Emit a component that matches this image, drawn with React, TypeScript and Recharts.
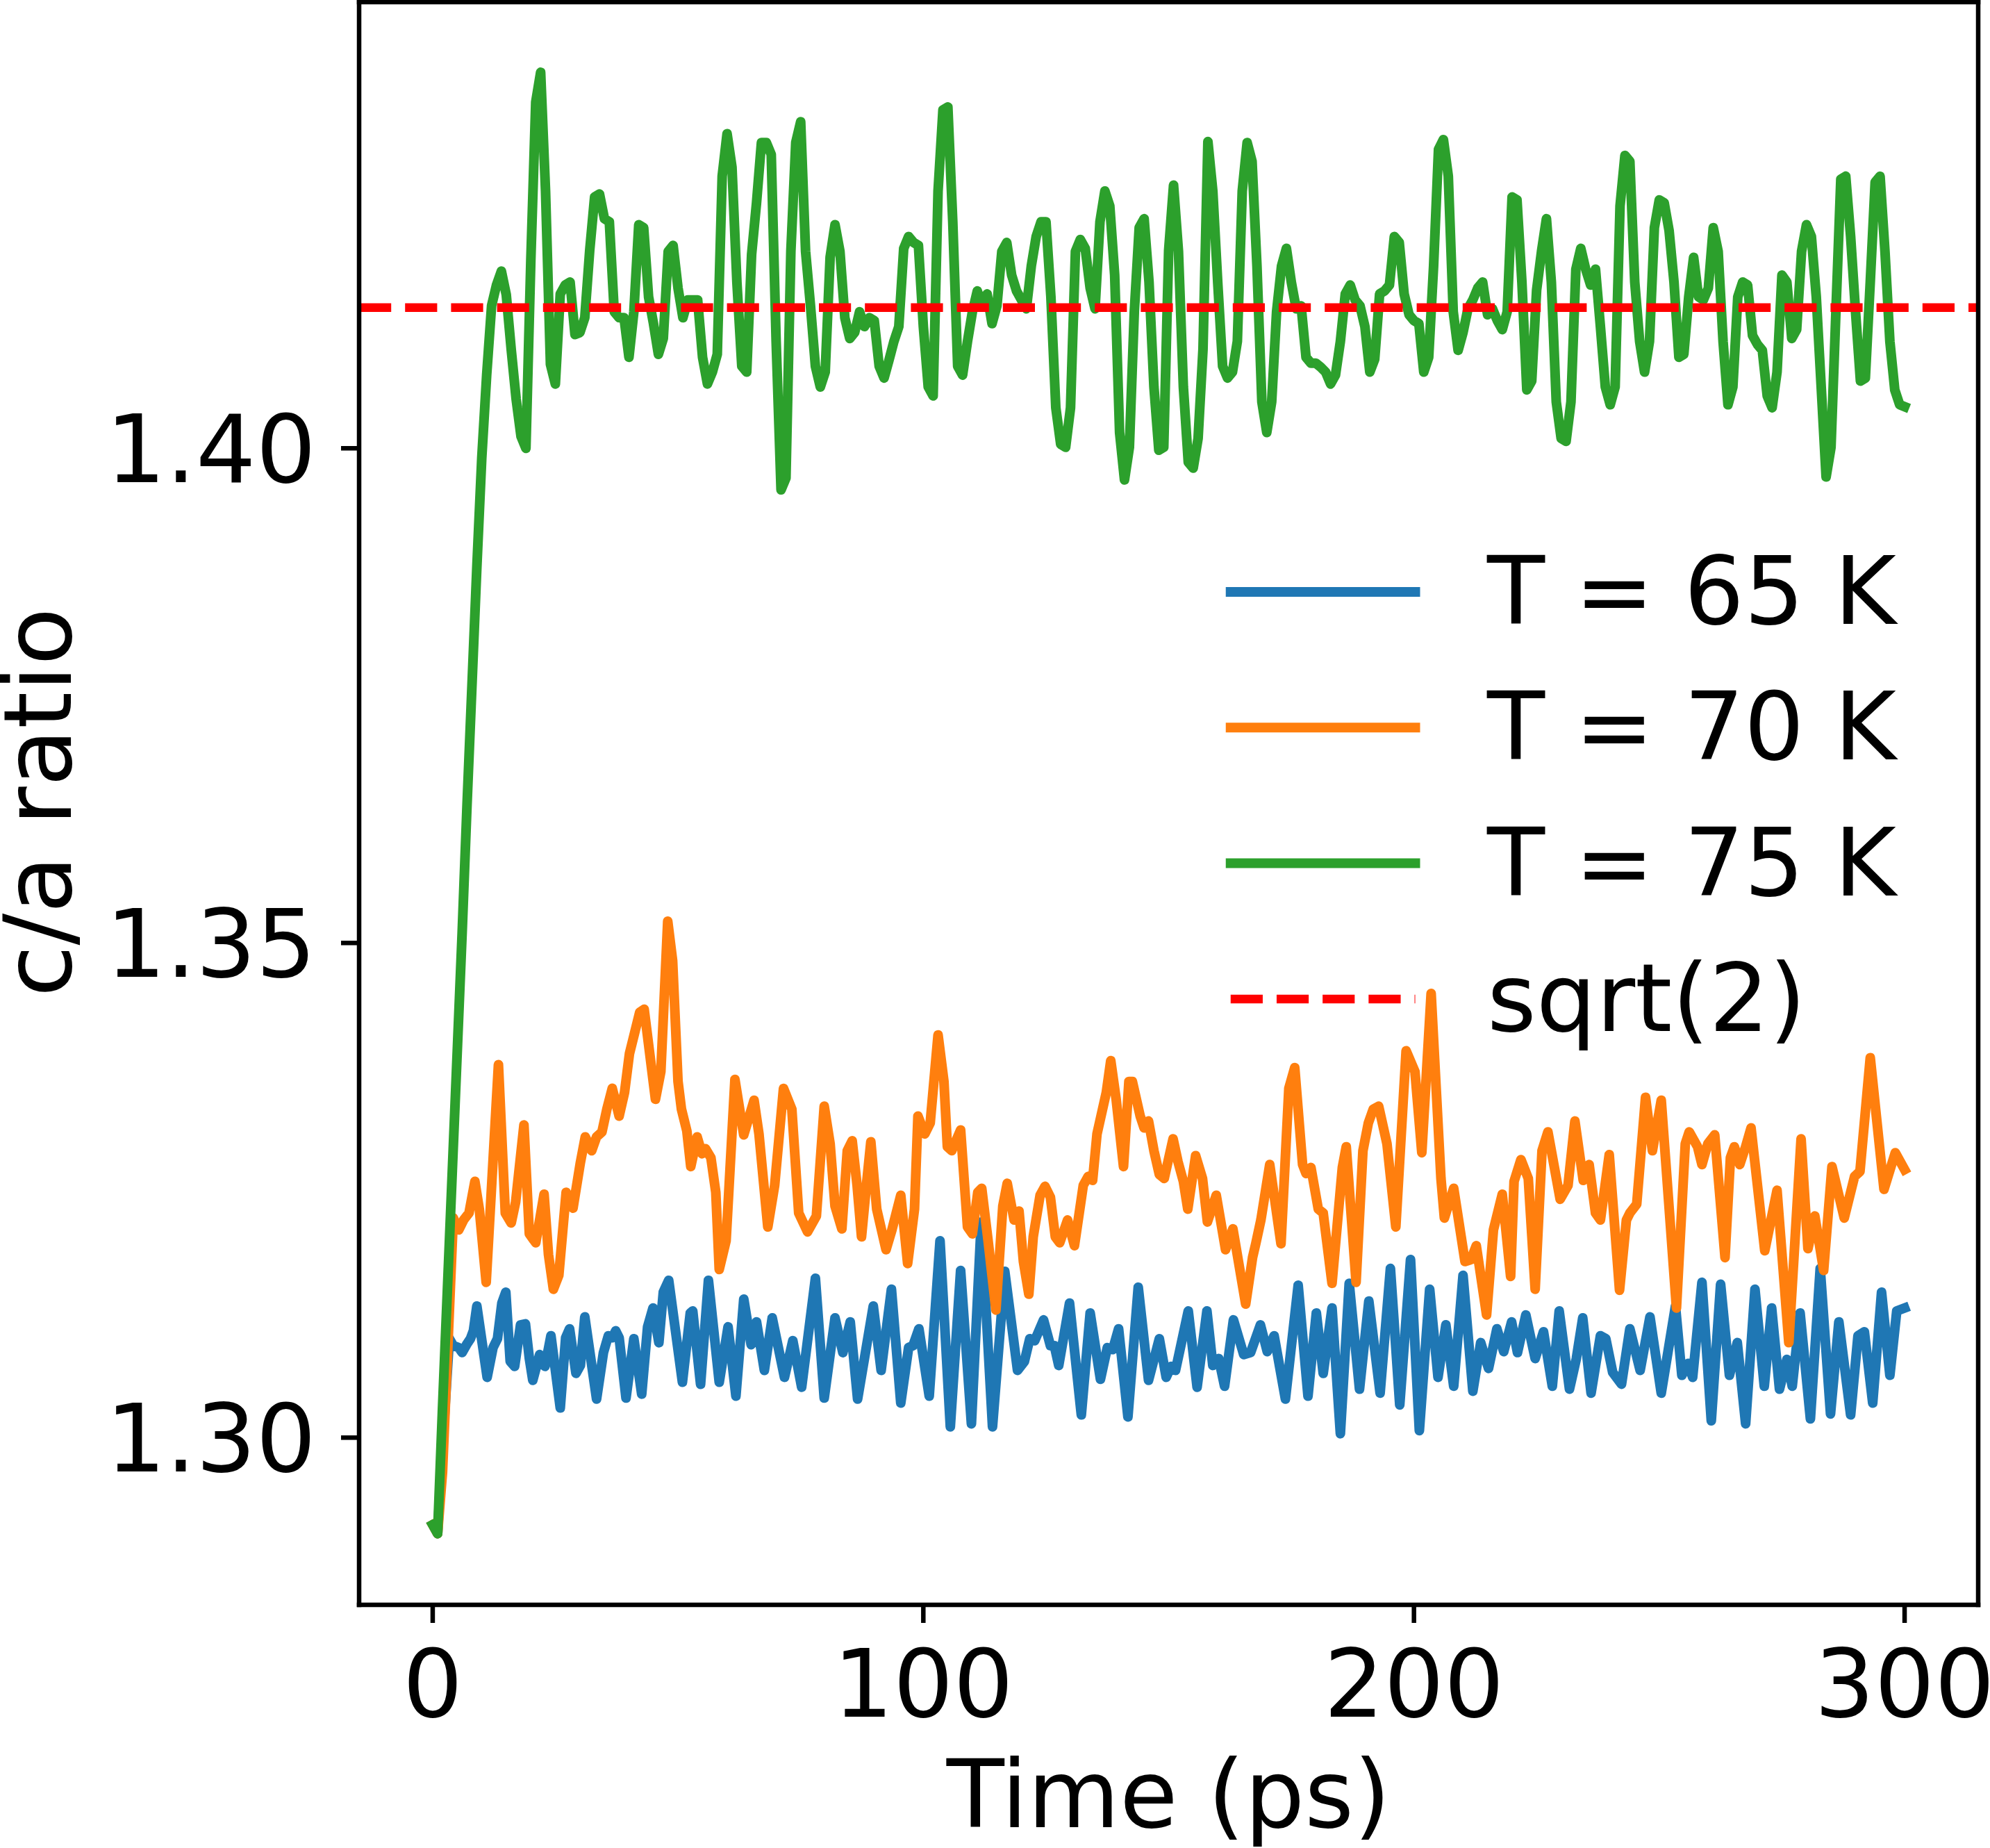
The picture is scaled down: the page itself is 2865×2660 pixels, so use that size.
import { LineChart, Line, XAxis, YAxis, ReferenceLine, Legend } from "recharts";

// c/a ratio vs simulation time for three temperatures, sqrt(2) reference line

const WIDTH = 2865;
const HEIGHT = 2660;
const FONT = '"DejaVu Sans", sans-serif';
const FONT_SIZE = 136;

const X_TICKS = [0, 100, 200, 300];
const Y_TICKS = [1.3, 1.35, 1.4];
const X_DOMAIN: [number, number] = [-15, 315];
const Y_DOMAIN: [number, number] = [1.2831, 1.4451];

const SQRT2 = Math.SQRT2;

const SERIES_LABELS = ["T = 65 K", "T = 70 K", "T = 75 K"];
const REF_LABEL = "sqrt(2)";
const X_LABEL = "Time (ps)";
const Y_LABEL = "c/a ratio";

// T = 65 K, [time ps, c/a] at the turning points
const BLUE_65K: [number, number][] = [
  [0, 1.2912], [1, 1.2903], [2, 1.299], [3.4, 1.31], [4.2, 1.3093], [5.3, 1.3091], [6, 1.3086],
  [6.9, 1.3094], [7.7, 1.31], [8.3, 1.3108], [9, 1.3133], [11.1, 1.3061], [12.3, 1.3091],
  [13.2, 1.31], [14.1, 1.3136], [14.9, 1.3147], [15.8, 1.3077], [16.7, 1.3072], [17.9, 1.3114],
  [18.9, 1.3115], [19.7, 1.308], [20.4, 1.3058], [21.8, 1.3084], [22.9, 1.3072], [24.1, 1.3103],
  [26, 1.303], [27.1, 1.3101], [27.9, 1.311], [29.2, 1.3065], [30.1, 1.3073], [31, 1.3122],
  [33.4, 1.3039], [34.8, 1.3086], [35.8, 1.3103], [36.6, 1.3101], [37.3, 1.3108], [38, 1.3101],
  [39.4, 1.304], [41, 1.31], [42.6, 1.3044], [43.8, 1.3112], [44.9, 1.3131], [46.1, 1.3096],
  [47, 1.3147], [48.1, 1.3159], [50.9, 1.3056], [52.5, 1.3126], [53, 1.3128], [54.6, 1.3054],
  [56.2, 1.3159], [58.4, 1.3056], [60.2, 1.3112], [61.8, 1.3042], [63.4, 1.314], [64.9, 1.3094],
  [66, 1.3117], [67.6, 1.3068], [69.2, 1.3121], [71.7, 1.3061], [73.4, 1.3098], [75.2, 1.3051],
  [78, 1.3161], [79.8, 1.304], [82, 1.3121], [83.6, 1.3086], [85.1, 1.3117], [86.6, 1.3039],
  [89.8, 1.3133], [91.4, 1.3068], [93.5, 1.315], [95.4, 1.3035], [97, 1.3091], [97.9, 1.3093],
  [99.1, 1.311], [101.2, 1.3042], [103.4, 1.3199], [105.5, 1.3011], [107.6, 1.3169],
  [109.8, 1.3014], [111.8, 1.3218], [114.1, 1.3011], [116.6, 1.3168], [119.2, 1.3068],
  [120.6, 1.3077], [121.7, 1.31], [122.7, 1.3098], [124.5, 1.3119], [125.9, 1.3093],
  [126.7, 1.3093], [127.6, 1.3073], [129.8, 1.3136], [132.2, 1.3023], [134, 1.3126],
  [136.1, 1.3059], [137.5, 1.3091], [138.6, 1.3089], [139.8, 1.311], [141.7, 1.3021],
  [143.8, 1.3152], [145.9, 1.3058], [148.1, 1.31], [149.5, 1.3061], [150.5, 1.3072],
  [151.4, 1.3068], [154, 1.3128], [155.8, 1.3051], [157.8, 1.3128], [159, 1.3073], [160.2, 1.308],
  [161.4, 1.3052], [163.2, 1.3119], [165.3, 1.3084], [166.7, 1.3086], [168.7, 1.3114],
  [170.1, 1.3087], [171.5, 1.3103], [173.8, 1.3039], [176.4, 1.3154], [178.4, 1.3042],
  [180.1, 1.3126], [181.5, 1.3065], [183.3, 1.3131], [185, 1.3004], [186.8, 1.3156],
  [188.9, 1.3049], [190.8, 1.3138], [193.1, 1.3045], [195.2, 1.3171], [197.1, 1.3033],
  [199.3, 1.318], [201.1, 1.3007], [203.2, 1.315], [204.9, 1.3061], [206.5, 1.3114],
  [208.1, 1.3052], [210, 1.3164], [212, 1.3047], [213.6, 1.3096], [215.2, 1.307], [216.9, 1.311],
  [218.3, 1.3087], [219.9, 1.3117], [221.1, 1.3086], [222.8, 1.3124], [224.7, 1.308],
  [226.4, 1.3107], [228.2, 1.3052], [229.6, 1.3128], [231.7, 1.3049], [233.1, 1.308],
  [234.4, 1.3121], [236.1, 1.3045], [238, 1.3103], [239.1, 1.31], [240.5, 1.3066],
  [242.3, 1.3054], [244, 1.311], [246.1, 1.3068], [248.1, 1.3122], [250.4, 1.3045],
  [253.3, 1.3133], [254.6, 1.3063], [255.9, 1.3075], [256.8, 1.3061], [258.7, 1.3157],
  [260.6, 1.3017], [262.5, 1.3155], [264.3, 1.3063], [265.9, 1.3096], [267.6, 1.3014],
  [269.5, 1.315], [271.4, 1.3052], [272.9, 1.3131], [274.5, 1.3049], [276, 1.3079],
  [277.1, 1.3052], [278.7, 1.3126], [280.8, 1.3019], [282.8, 1.3171], [284.9, 1.3024],
  [286.6, 1.3117], [289, 1.3023], [290.5, 1.3103], [291.8, 1.3107], [293.5, 1.3035],
  [295.3, 1.3147], [297, 1.3063], [298.4, 1.3128], [300, 1.3131],
];

// T = 70 K
const ORANGE_70K: [number, number][] = [
  [0, 1.2912], [1, 1.2903], [2, 1.2965], [4.2, 1.3222], [5.3, 1.321], [6.3, 1.322], [7.4, 1.3227],
  [8.6, 1.3259], [9.5, 1.3231], [10.9, 1.3157], [13.4, 1.3377], [14.8, 1.3227], [16, 1.3217],
  [16.9, 1.3238], [18.6, 1.3316], [19.7, 1.3206], [21, 1.3197], [22.7, 1.3246], [23.6, 1.3185],
  [24.6, 1.315], [25.7, 1.3164], [27.2, 1.3248], [28.6, 1.3232], [30.1, 1.3278], [31.1, 1.3304],
  [32.4, 1.329], [33.4, 1.3304], [34.5, 1.3309], [35.5, 1.3332], [36.6, 1.3353], [38, 1.3325],
  [39.1, 1.3349], [40.1, 1.3388], [42.2, 1.343], [43.1, 1.3433], [45.4, 1.3342], [46.5, 1.337],
  [47.9, 1.3522], [48.9, 1.3482], [50, 1.336], [50.7, 1.3332], [51.8, 1.331], [52.6, 1.3274],
  [53.9, 1.3304], [54.9, 1.3287], [55.6, 1.3292], [56.7, 1.3283], [57.7, 1.3248], [58.4, 1.317],
  [59.8, 1.3199], [61.6, 1.3362], [63.4, 1.3306], [65.5, 1.3341], [66.5, 1.3307], [68.3, 1.3213],
  [69.7, 1.3255], [71.5, 1.3353], [73.2, 1.3332], [74.6, 1.3227], [76.4, 1.3208], [78.2, 1.3224],
  [79.8, 1.3335], [81, 1.3297], [82, 1.3234], [83.4, 1.3211], [84.5, 1.329], [85.5, 1.33],
  [86.5, 1.3255], [87.4, 1.3203], [88.4, 1.3255], [89.3, 1.3299], [90.5, 1.3231], [92.4, 1.319],
  [93.6, 1.321], [95.4, 1.3245], [96.8, 1.3176], [98.2, 1.3231], [98.9, 1.3325], [100.3, 1.3307],
  [101.4, 1.3318], [103, 1.3407], [104.2, 1.336], [104.9, 1.3294], [105.8, 1.329],
  [107.6, 1.3311], [109, 1.3213], [110, 1.3206], [111.1, 1.3248], [111.9, 1.3252],
  [113.2, 1.3199], [114.8, 1.3129], [116.2, 1.3234], [117.1, 1.3257], [118.5, 1.322],
  [119.5, 1.3229], [120.4, 1.3178], [121.5, 1.3145], [122.4, 1.3203], [123.8, 1.3245],
  [124.8, 1.3254], [125.9, 1.3243], [126.9, 1.3203], [127.8, 1.3197], [129.4, 1.322],
  [130.8, 1.3194], [132.6, 1.3255], [133.6, 1.3264], [134.5, 1.326], [135.4, 1.3307],
  [137.3, 1.3349], [138.2, 1.3381], [139.3, 1.3342], [140.8, 1.3274], [141.9, 1.336],
  [142.6, 1.336], [144.2, 1.3325], [145, 1.3313], [145.9, 1.332], [147, 1.329], [148.1, 1.3266],
  [149.1, 1.3262], [150.9, 1.3302], [151.9, 1.3279], [153, 1.3259], [153.9, 1.3231],
  [155.5, 1.3285], [156.9, 1.3262], [157.9, 1.3218], [159.7, 1.3245], [161.6, 1.319],
  [163.1, 1.3211], [165.7, 1.3135], [167.1, 1.3182], [167.8, 1.3197], [168.8, 1.322],
  [170.6, 1.3276], [172.9, 1.3196], [174.5, 1.3353], [175.7, 1.3374], [177.3, 1.3276],
  [178, 1.3267], [179, 1.3273], [180.5, 1.3231], [181.5, 1.3227], [183.3, 1.3156],
  [185.4, 1.3273], [186.2, 1.3294], [188.2, 1.3157], [189.6, 1.329], [190.7, 1.3318],
  [191.7, 1.3332], [192.8, 1.3335], [194.5, 1.3297], [196.3, 1.3213], [198.4, 1.3391],
  [200.2, 1.337], [201.6, 1.3288], [203.5, 1.3449], [205.5, 1.3262], [206.2, 1.3222],
  [208.1, 1.3252], [210.4, 1.3178], [211.6, 1.318], [212.7, 1.3194], [214.8, 1.3124],
  [216.2, 1.321], [218, 1.3246], [219.7, 1.3163], [220.4, 1.3259], [221.8, 1.3281],
  [223.3, 1.3262], [224.7, 1.315], [226.1, 1.329], [227.3, 1.3309], [229.8, 1.3241],
  [231.4, 1.3255], [232.8, 1.332], [234.5, 1.326], [235.7, 1.3276], [237, 1.3227], [238, 1.322],
  [239.8, 1.3286], [241.9, 1.3149], [243.3, 1.322], [244, 1.3227], [245.4, 1.3236],
  [247.2, 1.3344], [248.6, 1.329], [250.4, 1.3341], [253.5, 1.3131], [255.3, 1.3297],
  [256.1, 1.3309], [257.8, 1.3294], [258.7, 1.3276], [259.9, 1.3297], [261.3, 1.3306],
  [263.4, 1.3182], [264.5, 1.3283], [265.3, 1.3294], [266.4, 1.3276], [267.6, 1.3294],
  [268.7, 1.3313], [271.5, 1.3189], [274, 1.325], [276.4, 1.3096], [278.9, 1.3302],
  [280.3, 1.3191], [281.7, 1.3224], [283.5, 1.3169], [285.2, 1.3274], [287.7, 1.3222],
  [289.8, 1.3264], [290.9, 1.3269], [293, 1.3384], [295.8, 1.3251], [298.1, 1.3288],
  [300, 1.3271],
];

// T = 75 K, one value per ps from 0 to 300
const GREEN_75K = [
  1.2912, 1.2903, 1.303, 1.315, 1.327, 1.339, 1.351, 1.364, 1.376, 1.388,
  1.399, 1.4074, 1.4144, 1.4165, 1.4179, 1.4155, 1.41, 1.405, 1.4012, 1.4,
  1.419, 1.435, 1.438, 1.426, 1.4085, 1.4065, 1.4156, 1.4165, 1.4168, 1.4115,
  1.4117, 1.4132, 1.42, 1.4254, 1.4257, 1.4232, 1.4229, 1.4138, 1.4132, 1.4132,
  1.4092, 1.4138, 1.4226, 1.4223, 1.4153, 1.4126, 1.4095, 1.4111, 1.4199, 1.4205,
  1.4162, 1.4132, 1.415, 1.415, 1.415, 1.4092, 1.4065, 1.4077, 1.4095, 1.4275,
  1.4318, 1.4284, 1.4168, 1.4083, 1.4077, 1.4196, 1.4248, 1.4309, 1.4309, 1.4297,
  1.4108, 1.3958, 1.397, 1.4199, 1.4309, 1.433, 1.4199, 1.4144, 1.4083, 1.4062,
  1.4077, 1.4193, 1.4226, 1.4199, 1.4132, 1.4111, 1.4117, 1.4138, 1.4123, 1.4132,
  1.4129, 1.4083, 1.4071, 1.4089, 1.4108, 1.4123, 1.4202, 1.4214, 1.4208, 1.4205,
  1.4123, 1.4062, 1.4053, 1.426, 1.4342, 1.4345, 1.4229, 1.4083, 1.4074, 1.4108,
  1.4138, 1.4159, 1.4144, 1.4156, 1.4126, 1.4144, 1.4199, 1.4208, 1.4175, 1.4159,
  1.415, 1.4141, 1.4184, 1.4214, 1.4229, 1.4229, 1.4153, 1.4041, 1.4004, 1.4001,
  1.4041, 1.4199, 1.4211, 1.4202, 1.4162, 1.4141, 1.4229, 1.426, 1.4245, 1.4175,
  1.4016, 1.3968, 1.4001, 1.4138, 1.4223, 1.4232, 1.4168, 1.4062, 1.3998, 1.4001,
  1.42, 1.4266, 1.4199, 1.4062, 1.3986, 1.398, 1.401, 1.41, 1.431, 1.426,
  1.4168, 1.4083, 1.4071, 1.4077, 1.4108, 1.426, 1.4309, 1.429, 1.4184, 1.4047,
  1.4016, 1.4047, 1.4138, 1.4184, 1.4202, 1.4168, 1.4141, 1.4144, 1.4092, 1.4086,
  1.4086, 1.4082, 1.4077, 1.4065, 1.4074, 1.4108, 1.4156, 1.4165, 1.415, 1.4144,
  1.4123, 1.4077, 1.409, 1.4156, 1.4159, 1.4165, 1.4214, 1.4208, 1.4156, 1.4135,
  1.4129, 1.4126, 1.4077, 1.4092, 1.4184, 1.4302, 1.4312, 1.4275, 1.4138, 1.4099,
  1.4117, 1.4141, 1.415, 1.4162, 1.4168, 1.4135, 1.4141, 1.4129, 1.412, 1.4138,
  1.4254, 1.4251, 1.4168, 1.4059, 1.4068, 1.416, 1.4199, 1.4232, 1.4168, 1.4047,
  1.401, 1.4007, 1.4047, 1.4181, 1.4202, 1.4181, 1.4165, 1.4181, 1.4123, 1.4062,
  1.4044, 1.4062, 1.4245, 1.4296, 1.429, 1.4168, 1.4108, 1.4077, 1.4108, 1.4223,
  1.4251, 1.4248, 1.422, 1.4168, 1.4092, 1.4095, 1.4153, 1.4193, 1.4153, 1.415,
  1.4162, 1.4223, 1.4199, 1.4108, 1.4044, 1.4062, 1.4153, 1.4168, 1.4165, 1.4114,
  1.4105, 1.4099, 1.4053, 1.4041, 1.4077, 1.4175, 1.4168, 1.4111, 1.412, 1.4199,
  1.4226, 1.4214, 1.4153, 1.4062, 1.3971, 1.4001, 1.4138, 1.4272, 1.4275, 1.4214,
  1.4138, 1.4068, 1.4071, 1.4168, 1.4269, 1.4275, 1.4199, 1.4108, 1.4059, 1.4044,
  1.4042,
];

const SERIES = [
  { name: SERIES_LABELS[0], color: "#1f77b4", data: BLUE_65K.map(([t, v]) => ({ t, v })) },
  { name: SERIES_LABELS[1], color: "#ff7f0e", data: ORANGE_70K.map(([t, v]) => ({ t, v })) },
  { name: SERIES_LABELS[2], color: "#2ca02c", data: GREEN_75K.map((v, t) => ({ t, v })) },
];
const REF_COLOR = "#ff0000";

const LINE_W = 14;
const REF_W = 12.5;
const REF_DASH = "46.2 20";
const FRAME_W = 6.5;
const FRAME = { stroke: "#000", strokeWidth: FRAME_W, strokeLinecap: "square" as const };
const TICK_STYLE = { fontSize: FONT_SIZE, fill: "#000", fontFamily: FONT };

const renderXLabel = () => (
  <text x={1682.5} y={2630} textAnchor="middle" fontSize={FONT_SIZE} fontFamily={FONT} fill="#000">
    {X_LABEL}
  </text>
);

const renderYLabel = () => (
  <text
    x={102}
    y={1155}
    transform="rotate(-90, 102, 1155)"
    textAnchor="middle"
    fontSize={FONT_SIZE}
    fontFamily={FONT}
    fill="#000"
  >
    {Y_LABEL}
  </text>
);

const renderLegend = () => {
  const rows = [
    ...SERIES.map((s) => ({ label: s.name, color: s.color, dash: undefined as string | undefined })),
    { label: REF_LABEL, color: REF_COLOR, dash: REF_DASH },
  ];
  return (
    <svg
      width={WIDTH}
      height={HEIGHT}
      style={{ position: "absolute", left: 0, top: 0, overflow: "visible", pointerEvents: "none" }}
    >
      {rows.map((r, i) => {
        const y = 852 + i * 195.3;
        return (
          <g key={r.label}>
            <line
              x1={1771.75}
              x2={2037.5}
              y1={y}
              y2={y}
              stroke={r.color}
              strokeWidth={r.dash ? REF_W : LINE_W}
              strokeDasharray={r.dash}
              strokeLinecap={r.dash ? "butt" : "square"}
            />
            <text x={2141} y={y + 46} fontSize={FONT_SIZE} fontFamily={FONT} fill="#000">
              {r.label}
            </text>
          </g>
        );
      })}
    </svg>
  );
};

export default function App() {
  return (
    <div style={{ position: "absolute", left: 0, top: 0, width: WIDTH, height: HEIGHT, background: "#fff" }}>
      <LineChart width={WIDTH} height={HEIGHT} margin={{ top: 3, right: 17, bottom: 10, left: 0 }}>
        <XAxis
          xAxisId="x"
          dataKey="t"
          type="number"
          domain={X_DOMAIN}
          allowDataOverflow
          ticks={X_TICKS}
          interval={0}
          height={340}
          tick={TICK_STYLE}
          tickSize={26}
          tickMargin={38}
          tickLine={{ stroke: "#000", strokeWidth: FRAME_W }}
          axisLine={FRAME}
          label={renderXLabel}
        />
        <YAxis
          yAxisId="y"
          type="number"
          domain={Y_DOMAIN}
          allowDataOverflow
          ticks={Y_TICKS}
          interval={0}
          width={517}
          tick={TICK_STYLE}
          tickSize={26}
          tickMargin={36}
          tickFormatter={(v: number) => v.toFixed(2)}
          tickLine={{ stroke: "#000", strokeWidth: FRAME_W }}
          axisLine={FRAME}
          label={renderYLabel}
        />
        {SERIES.map((s) => (
          <Line
            key={s.name}
            xAxisId="x"
            yAxisId="y"
            name={s.name}
            data={s.data}
            dataKey="v"
            type="linear"
            stroke={s.color}
            strokeWidth={LINE_W}
            strokeLinejoin="round"
            strokeLinecap="square"
            dot={false}
            activeDot={false}
            isAnimationActive={false}
          />
        ))}
        <ReferenceLine
          xAxisId="x"
          yAxisId="y"
          y={SQRT2}
          stroke={REF_COLOR}
          strokeWidth={REF_W}
          strokeDasharray={REF_DASH}
        />
        {/* top and right spines of the axes box */}
        <ReferenceLine xAxisId="x" yAxisId="y" y={Y_DOMAIN[1]} {...FRAME} />
        <ReferenceLine xAxisId="x" yAxisId="y" x={X_DOMAIN[1]} {...FRAME} />
        <Legend
          content={renderLegend}
          wrapperStyle={{ position: "absolute", left: 0, top: 0, width: WIDTH, height: 0 }}
        />
      </LineChart>
    </div>
  );
}
